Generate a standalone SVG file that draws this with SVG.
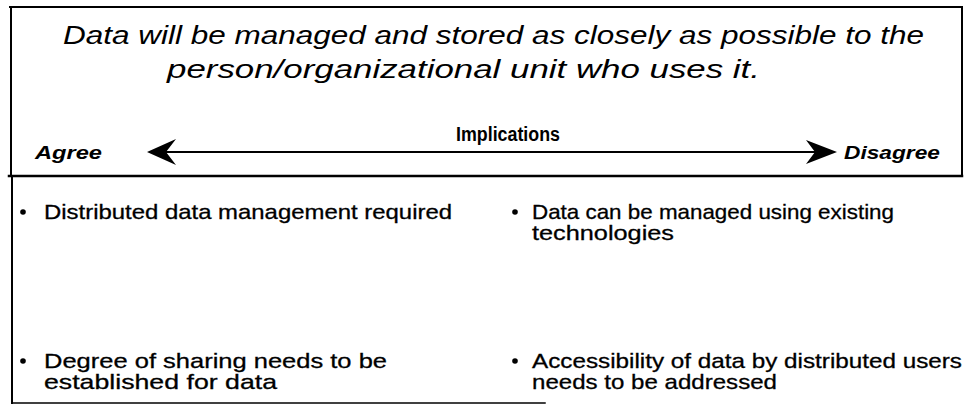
<svg xmlns="http://www.w3.org/2000/svg" width="964" height="405" viewBox="0 0 964 405">
<style>
.ln{stroke:#000;fill:none;stroke-linecap:square}
.t{font-family:"Liberation Sans",Arial,sans-serif;fill:#000}
.title{font-size:26px;font-style:italic}
.body{font-size:21px;stroke:#000;stroke-width:0.3}
.lab{font-size:19px;font-weight:bold;font-style:italic}
.imp{font-size:20px;font-weight:bold}
.ah{fill:#000}
</style>
<rect width="964" height="405" fill="#fff"/>
<g id="frame">
<line class="ln" x1="10" y1="7" x2="962" y2="7" stroke-width="2"/>
<line class="ln" x1="11" y1="7" x2="11" y2="176" stroke-width="2"/>
<line class="ln" x1="962" y1="7" x2="962" y2="176" stroke-width="2"/>
<line class="ln" x1="9" y1="176" x2="962" y2="176" stroke-width="2.5"/>
<line class="ln" x1="12" y1="176" x2="12" y2="403" stroke-width="2"/>
<line class="ln" x1="12" y1="403" x2="545" y2="403" stroke-width="1.5"/>
</g>
<g id="title">
<text class="t title" x="63" y="44" textLength="861" lengthAdjust="spacingAndGlyphs">Data will be managed and stored as closely as possible to the</text>
<text class="t title" x="167" y="78" textLength="593" lengthAdjust="spacingAndGlyphs">person/organizational unit who uses it.</text>
</g>
<g id="implications">
<text class="t imp" x="456" y="141" textLength="104" lengthAdjust="spacingAndGlyphs">Implications</text>
</g>
<g id="agree">
<text class="t lab" x="35" y="159" textLength="67" lengthAdjust="spacingAndGlyphs">Agree</text>
</g>
<g id="disagree">
<text class="t lab" x="844" y="159" textLength="96" lengthAdjust="spacingAndGlyphs">Disagree</text>
</g>
<g id="connectors">
<line class="ln" x1="162" y1="152" x2="822" y2="152" stroke-width="2"/>
<polygon class="ah" points="147,152 176,139 166,152 176,165"/>
<polygon class="ah" points="837,152 806,140 815,152 806,164"/>
</g>
<g id="agree-1">
<circle cx="23" cy="212" r="2.8"/>
<text class="t body" x="44" y="219" textLength="408" lengthAdjust="spacingAndGlyphs">Distributed data management required</text>
</g>
<g id="disagree-1">
<circle cx="515" cy="212" r="2.8"/>
<text class="t body" x="532" y="219" textLength="362" lengthAdjust="spacingAndGlyphs">Data can be managed using existing</text>
<text class="t body" x="532" y="240" textLength="142" lengthAdjust="spacingAndGlyphs">technologies</text>
</g>
<g id="agree-2">
<circle cx="23" cy="361" r="2.8"/>
<text class="t body" x="44" y="368" textLength="343" lengthAdjust="spacingAndGlyphs">Degree of sharing needs to be</text>
<text class="t body" x="44" y="389" textLength="233" lengthAdjust="spacingAndGlyphs">established for data</text>
</g>
<g id="disagree-2">
<circle cx="515" cy="361" r="2.8"/>
<text class="t body" x="532" y="368" textLength="430" lengthAdjust="spacingAndGlyphs">Accessibility of data by distributed users</text>
<text class="t body" x="532" y="389" textLength="245" lengthAdjust="spacingAndGlyphs">needs to be addressed</text>
</g>
</svg>
